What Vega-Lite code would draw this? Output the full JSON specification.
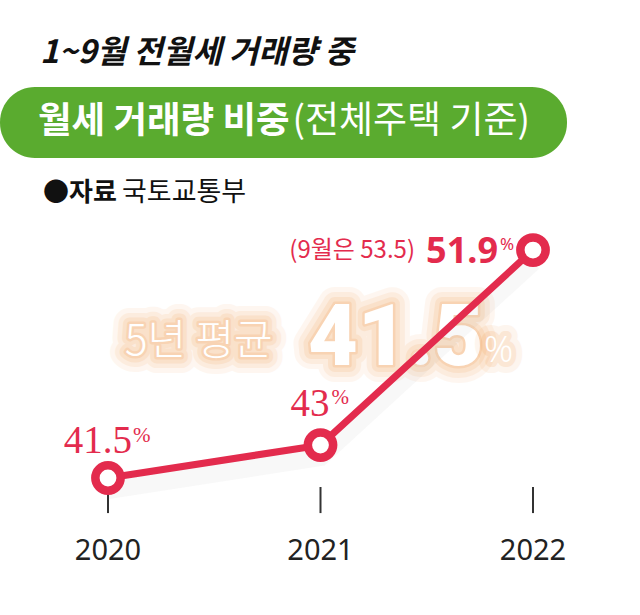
{
  "$schema": "https://vega.github.io/schema/vega-lite/v6.json",
  "width": 640,
  "height": 615,
  "autosize": {"type": "fit", "contains": "padding"},
  "padding": 0,
  "background": "white",
  "config": {"view": {"stroke": null}},
  "data": {
    "values": [
      {"year": 2020, "share": 41.5},
      {"year": 2021, "share": 43.0},
      {"year": 2022, "share": 51.9}
    ]
  },
  "layer": [
    {
      "data": {"values": [{}]},
      "mark": {"type": "rect", "color": "#5aab2f", "cornerRadius": 35},
      "encoding": {
        "x": {"datum": 2019.4918, "type": "quantitative", "scale": {"domain": [2019.4918, 2022.5035], "nice": false, "zero": false}, "axis": null},
        "x2": {"datum": 2022.16},
        "y": {"datum": 59.338, "type": "quantitative", "scale": {"domain": [35.25, 63.307], "nice": false, "zero": false}, "axis": null},
        "y2": {"datum": 56.099}
      }
    },
    {
      "data": {"values": [{}]},
      "mark": {"type": "text", "align": "left", "baseline": "middle", "font": "Noto Sans CJK KR", "fontSize": 32, "fontWeight": "bold", "fontStyle": "italic", "color": "#111111"},
      "encoding": {
        "x": {"datum": 2019.68, "type": "quantitative", "scale": {"domain": [2019.4918, 2022.5035], "nice": false, "zero": false}, "axis": null},
        "y": {"datum": 60.889, "type": "quantitative", "scale": {"domain": [35.25, 63.307], "nice": false, "zero": false}, "axis": null},
        "text": {"value": "1~9월 전월세 거래량 중"}
      }
    },
    {
      "data": {"values": [{}]},
      "mark": {"type": "text", "align": "left", "baseline": "middle", "font": "Noto Sans CJK KR", "fontSize": 36.5, "fontWeight": "bold", "color": "white"},
      "encoding": {
        "x": {"datum": 2019.6706, "type": "quantitative", "scale": {"domain": [2019.4918, 2022.5035], "nice": false, "zero": false}, "axis": null},
        "y": {"datum": 57.741, "type": "quantitative", "scale": {"domain": [35.25, 63.307], "nice": false, "zero": false}, "axis": null},
        "text": {"value": "월세 거래량 비중"}
      }
    },
    {
      "data": {"values": [{}]},
      "mark": {"type": "text", "align": "right", "baseline": "middle", "font": "Noto Sans CJK KR", "fontSize": 37, "fontWeight": "normal", "color": "white"},
      "encoding": {
        "x": {"datum": 2021.9859, "type": "quantitative", "scale": {"domain": [2019.4918, 2022.5035], "nice": false, "zero": false}, "axis": null},
        "y": {"datum": 57.741, "type": "quantitative", "scale": {"domain": [35.25, 63.307], "nice": false, "zero": false}, "axis": null},
        "text": {"value": "(전체주택 기준)"}
      }
    },
    {
      "data": {"values": [{}]},
      "mark": {"type": "text", "align": "left", "baseline": "middle", "font": "Noto Sans CJK KR", "fontSize": 26, "fontWeight": "bold", "color": "#111111"},
      "encoding": {
        "x": {"datum": 2019.6942, "type": "quantitative", "scale": {"domain": [2019.4918, 2022.5035], "nice": false, "zero": false}, "axis": null},
        "y": {"datum": 54.502, "type": "quantitative", "scale": {"domain": [35.25, 63.307], "nice": false, "zero": false}, "axis": null},
        "text": {"value": "●자료"}
      }
    },
    {
      "data": {"values": [{}]},
      "mark": {"type": "text", "align": "left", "baseline": "middle", "font": "Noto Sans CJK KR", "fontSize": 27, "fontWeight": "normal", "color": "#111111"},
      "encoding": {
        "x": {"datum": 2020.0659, "type": "quantitative", "scale": {"domain": [2019.4918, 2022.5035], "nice": false, "zero": false}, "axis": null},
        "y": {"datum": 54.502, "type": "quantitative", "scale": {"domain": [35.25, 63.307], "nice": false, "zero": false}, "axis": null},
        "text": {"value": "국토교통부"}
      }
    },
    {
      "data": {"values": [{}]},
      "mark": {"type": "text", "align": "left", "baseline": "middle", "font": "Noto Sans CJK KR", "fontSize": 42, "fontWeight": 300, "fill": "#f39a4e", "stroke": "#f39a4e", "strokeWidth": 32, "strokeJoin": "round", "opacity": 0.08},
      "encoding": {
        "x": {"datum": 2020.08, "type": "quantitative", "scale": {"domain": [2019.4918, 2022.5035], "nice": false, "zero": false}, "axis": null},
        "y": {"datum": 47.682, "type": "quantitative", "scale": {"domain": [35.25, 63.307], "nice": false, "zero": false}, "axis": null},
        "text": {"value": "5년 평균"}
      }
    },
    {
      "data": {"values": [{}]},
      "mark": {"type": "text", "align": "left", "baseline": "middle", "font": "Noto Sans CJK KR", "fontSize": 42, "fontWeight": 300, "fill": "#f39a4e", "stroke": "#f39a4e", "strokeWidth": 22, "strokeJoin": "round", "opacity": 0.1},
      "encoding": {
        "x": {"datum": 2020.08, "type": "quantitative", "scale": {"domain": [2019.4918, 2022.5035], "nice": false, "zero": false}, "axis": null},
        "y": {"datum": 47.682, "type": "quantitative", "scale": {"domain": [35.25, 63.307], "nice": false, "zero": false}, "axis": null},
        "text": {"value": "5년 평균"}
      }
    },
    {
      "data": {"values": [{}]},
      "mark": {"type": "text", "align": "left", "baseline": "middle", "font": "Noto Sans CJK KR", "fontSize": 42, "fontWeight": 300, "fill": "#f39a4e", "stroke": "#f39a4e", "strokeWidth": 13, "strokeJoin": "round", "opacity": 0.13},
      "encoding": {
        "x": {"datum": 2020.08, "type": "quantitative", "scale": {"domain": [2019.4918, 2022.5035], "nice": false, "zero": false}, "axis": null},
        "y": {"datum": 47.682, "type": "quantitative", "scale": {"domain": [35.25, 63.307], "nice": false, "zero": false}, "axis": null},
        "text": {"value": "5년 평균"}
      }
    },
    {
      "data": {"values": [{}]},
      "mark": {"type": "text", "align": "left", "baseline": "middle", "font": "Noto Sans CJK KR", "fontSize": 42, "fontWeight": 300, "fill": "#f39a4e", "stroke": "#f39a4e", "strokeWidth": 5, "strokeJoin": "round", "opacity": 0.18},
      "encoding": {
        "x": {"datum": 2020.08, "type": "quantitative", "scale": {"domain": [2019.4918, 2022.5035], "nice": false, "zero": false}, "axis": null},
        "y": {"datum": 47.682, "type": "quantitative", "scale": {"domain": [35.25, 63.307], "nice": false, "zero": false}, "axis": null},
        "text": {"value": "5년 평균"}
      }
    },
    {
      "data": {"values": [{}]},
      "mark": {"type": "text", "align": "left", "baseline": "middle", "font": "Noto Sans CJK KR", "fontSize": 42, "fontWeight": 300, "color": "white"},
      "encoding": {
        "x": {"datum": 2020.08, "type": "quantitative", "scale": {"domain": [2019.4918, 2022.5035], "nice": false, "zero": false}, "axis": null},
        "y": {"datum": 47.682, "type": "quantitative", "scale": {"domain": [35.25, 63.307], "nice": false, "zero": false}, "axis": null},
        "text": {"value": "5년 평균"}
      }
    },
    {
      "data": {"values": [{}]},
      "mark": {"type": "text", "align": "left", "baseline": "alphabetic", "font": "Roboto", "fontSize": 86, "fontWeight": 900, "fill": "#f39a4e", "stroke": "#f39a4e", "strokeWidth": 34, "strokeJoin": "round", "opacity": 0.08},
      "encoding": {
        "x": {"datum": 2020.9412, "type": "quantitative", "scale": {"domain": [2019.4918, 2022.5035], "nice": false, "zero": false}, "axis": null},
        "y": {"datum": 46.656, "type": "quantitative", "scale": {"domain": [35.25, 63.307], "nice": false, "zero": false}, "axis": null},
        "text": {"value": "41.5"}
      }
    },
    {
      "data": {"values": [{}]},
      "mark": {"type": "text", "align": "left", "baseline": "alphabetic", "font": "Roboto", "fontSize": 86, "fontWeight": 900, "fill": "#f39a4e", "stroke": "#f39a4e", "strokeWidth": 24, "strokeJoin": "round", "opacity": 0.1},
      "encoding": {
        "x": {"datum": 2020.9412, "type": "quantitative", "scale": {"domain": [2019.4918, 2022.5035], "nice": false, "zero": false}, "axis": null},
        "y": {"datum": 46.656, "type": "quantitative", "scale": {"domain": [35.25, 63.307], "nice": false, "zero": false}, "axis": null},
        "text": {"value": "41.5"}
      }
    },
    {
      "data": {"values": [{}]},
      "mark": {"type": "text", "align": "left", "baseline": "alphabetic", "font": "Roboto", "fontSize": 86, "fontWeight": 900, "fill": "#f39a4e", "stroke": "#f39a4e", "strokeWidth": 14, "strokeJoin": "round", "opacity": 0.13},
      "encoding": {
        "x": {"datum": 2020.9412, "type": "quantitative", "scale": {"domain": [2019.4918, 2022.5035], "nice": false, "zero": false}, "axis": null},
        "y": {"datum": 46.656, "type": "quantitative", "scale": {"domain": [35.25, 63.307], "nice": false, "zero": false}, "axis": null},
        "text": {"value": "41.5"}
      }
    },
    {
      "data": {"values": [{}]},
      "mark": {"type": "text", "align": "left", "baseline": "alphabetic", "font": "Roboto", "fontSize": 86, "fontWeight": 900, "fill": "#f39a4e", "stroke": "#f39a4e", "strokeWidth": 5, "strokeJoin": "round", "opacity": 0.18},
      "encoding": {
        "x": {"datum": 2020.9412, "type": "quantitative", "scale": {"domain": [2019.4918, 2022.5035], "nice": false, "zero": false}, "axis": null},
        "y": {"datum": 46.656, "type": "quantitative", "scale": {"domain": [35.25, 63.307], "nice": false, "zero": false}, "axis": null},
        "text": {"value": "41.5"}
      }
    },
    {
      "data": {"values": [{}]},
      "mark": {"type": "text", "align": "left", "baseline": "alphabetic", "font": "Roboto", "fontSize": 86, "fontWeight": 900, "color": "white"},
      "encoding": {
        "x": {"datum": 2020.9412, "type": "quantitative", "scale": {"domain": [2019.4918, 2022.5035], "nice": false, "zero": false}, "axis": null},
        "y": {"datum": 46.656, "type": "quantitative", "scale": {"domain": [35.25, 63.307], "nice": false, "zero": false}, "axis": null},
        "text": {"value": "41.5"}
      }
    },
    {
      "data": {"values": [{}]},
      "mark": {"type": "text", "align": "left", "baseline": "alphabetic", "font": "Noto Sans", "fontSize": 36, "fontWeight": 300, "fill": "#f39a4e", "stroke": "#f39a4e", "strokeWidth": 22, "strokeJoin": "round", "opacity": 0.09},
      "encoding": {
        "x": {"datum": 2021.7694, "type": "quantitative", "scale": {"domain": [2019.4918, 2022.5035], "nice": false, "zero": false}, "axis": null},
        "y": {"datum": 46.792, "type": "quantitative", "scale": {"domain": [35.25, 63.307], "nice": false, "zero": false}, "axis": null},
        "text": {"value": "%"}
      }
    },
    {
      "data": {"values": [{}]},
      "mark": {"type": "text", "align": "left", "baseline": "alphabetic", "font": "Noto Sans", "fontSize": 36, "fontWeight": 300, "fill": "#f39a4e", "stroke": "#f39a4e", "strokeWidth": 10, "strokeJoin": "round", "opacity": 0.15},
      "encoding": {
        "x": {"datum": 2021.7694, "type": "quantitative", "scale": {"domain": [2019.4918, 2022.5035], "nice": false, "zero": false}, "axis": null},
        "y": {"datum": 46.792, "type": "quantitative", "scale": {"domain": [35.25, 63.307], "nice": false, "zero": false}, "axis": null},
        "text": {"value": "%"}
      }
    },
    {
      "data": {"values": [{}]},
      "mark": {"type": "text", "align": "left", "baseline": "alphabetic", "font": "Noto Sans", "fontSize": 36, "fontWeight": 300, "color": "white"},
      "encoding": {
        "x": {"datum": 2021.7694, "type": "quantitative", "scale": {"domain": [2019.4918, 2022.5035], "nice": false, "zero": false}, "axis": null},
        "y": {"datum": 46.792, "type": "quantitative", "scale": {"domain": [35.25, 63.307], "nice": false, "zero": false}, "axis": null},
        "text": {"value": "%"}
      }
    },
    {
      "mark": {"type": "line", "color": "#9a9a9a", "strokeWidth": 18, "opacity": 0.07, "yOffset": 12},
      "encoding": {
        "x": {"field": "year", "type": "quantitative", "scale": {"domain": [2019.4918, 2022.5035], "nice": false, "zero": false}, "axis": null},
        "y": {"field": "share", "type": "quantitative", "scale": {"domain": [35.25, 63.307], "nice": false, "zero": false}, "axis": null}
      }
    },
    {
      "mark": {"type": "rule", "color": "#333333", "strokeWidth": 2},
      "encoding": {
        "x": {"field": "year", "type": "quantitative", "scale": {"domain": [2019.4918, 2022.5035], "nice": false, "zero": false}, "axis": null},
        "y": {"datum": 41.09, "type": "quantitative", "scale": {"domain": [35.25, 63.307], "nice": false, "zero": false}, "axis": null},
        "y2": {"datum": 39.9}
      }
    },
    {
      "mark": {"type": "line", "color": "#e32b4d", "strokeWidth": 7, "strokeCap": "round"},
      "encoding": {
        "x": {"field": "year", "type": "quantitative", "scale": {"domain": [2019.4918, 2022.5035], "nice": false, "zero": false}, "axis": null},
        "y": {"field": "share", "type": "quantitative", "scale": {"domain": [35.25, 63.307], "nice": false, "zero": false}, "axis": null}
      }
    },
    {
      "mark": {"type": "point", "shape": "circle", "filled": true, "fill": "white", "stroke": "#e32b4d", "strokeWidth": 8.5, "size": 640, "opacity": 1},
      "encoding": {
        "x": {"field": "year", "type": "quantitative", "scale": {"domain": [2019.4918, 2022.5035], "nice": false, "zero": false}, "axis": null},
        "y": {"field": "share", "type": "quantitative", "scale": {"domain": [35.25, 63.307], "nice": false, "zero": false}, "axis": null}
      }
    },
    {
      "transform": [{"filter": "datum.year == 2020"}],
      "mark": {"type": "text", "align": "right", "baseline": "alphabetic", "font": "Liberation Serif", "fontSize": 39, "color": "#e32b4d", "dx": 24, "dy": -25},
      "encoding": {
        "x": {"field": "year", "type": "quantitative", "scale": {"domain": [2019.4918, 2022.5035], "nice": false, "zero": false}, "axis": null},
        "y": {"field": "share", "type": "quantitative", "scale": {"domain": [35.25, 63.307], "nice": false, "zero": false}, "axis": null},
        "text": {"field": "share", "type": "quantitative", "format": ".3~g"}
      }
    },
    {
      "transform": [{"filter": "datum.year == 2020"}],
      "mark": {"type": "text", "align": "left", "baseline": "alphabetic", "font": "Liberation Serif", "fontSize": 21, "color": "#e32b4d", "dx": 25, "dy": -36},
      "encoding": {
        "x": {"field": "year", "type": "quantitative", "scale": {"domain": [2019.4918, 2022.5035], "nice": false, "zero": false}, "axis": null},
        "y": {"field": "share", "type": "quantitative", "scale": {"domain": [35.25, 63.307], "nice": false, "zero": false}, "axis": null},
        "text": {"value": "%"}
      }
    },
    {
      "transform": [{"filter": "datum.year == 2021"}],
      "mark": {"type": "text", "align": "right", "baseline": "alphabetic", "font": "Liberation Serif", "fontSize": 39, "color": "#e32b4d", "dx": 9, "dy": -29},
      "encoding": {
        "x": {"field": "year", "type": "quantitative", "scale": {"domain": [2019.4918, 2022.5035], "nice": false, "zero": false}, "axis": null},
        "y": {"field": "share", "type": "quantitative", "scale": {"domain": [35.25, 63.307], "nice": false, "zero": false}, "axis": null},
        "text": {"field": "share", "type": "quantitative", "format": ".3~g"}
      }
    },
    {
      "transform": [{"filter": "datum.year == 2021"}],
      "mark": {"type": "text", "align": "left", "baseline": "alphabetic", "font": "Liberation Serif", "fontSize": 21, "color": "#e32b4d", "dx": 11, "dy": -41},
      "encoding": {
        "x": {"field": "year", "type": "quantitative", "scale": {"domain": [2019.4918, 2022.5035], "nice": false, "zero": false}, "axis": null},
        "y": {"field": "share", "type": "quantitative", "scale": {"domain": [35.25, 63.307], "nice": false, "zero": false}, "axis": null},
        "text": {"value": "%"}
      }
    },
    {
      "transform": [{"filter": "datum.year == 2022"}],
      "mark": {"type": "text", "align": "right", "baseline": "alphabetic", "font": "Noto Sans", "fontWeight": "bold", "fontSize": 36, "color": "#e32b4d", "dx": -35, "dy": 13},
      "encoding": {
        "x": {"field": "year", "type": "quantitative", "scale": {"domain": [2019.4918, 2022.5035], "nice": false, "zero": false}, "axis": null},
        "y": {"field": "share", "type": "quantitative", "scale": {"domain": [35.25, 63.307], "nice": false, "zero": false}, "axis": null},
        "text": {"field": "share", "type": "quantitative", "format": ".3~g"}
      }
    },
    {
      "transform": [{"filter": "datum.year == 2022"}],
      "mark": {"type": "text", "align": "left", "baseline": "alphabetic", "font": "Noto Sans", "fontSize": 17, "color": "#e32b4d", "dx": -33, "dy": 0},
      "encoding": {
        "x": {"field": "year", "type": "quantitative", "scale": {"domain": [2019.4918, 2022.5035], "nice": false, "zero": false}, "axis": null},
        "y": {"field": "share", "type": "quantitative", "scale": {"domain": [35.25, 63.307], "nice": false, "zero": false}, "axis": null},
        "text": {"value": "%"}
      }
    },
    {
      "transform": [{"filter": "datum.year == 2022"}],
      "mark": {"type": "text", "align": "right", "baseline": "middle", "font": "Noto Sans CJK KR", "fontSize": 24, "color": "#e32b4d", "dx": -118, "dy": 1},
      "encoding": {
        "x": {"field": "year", "type": "quantitative", "scale": {"domain": [2019.4918, 2022.5035], "nice": false, "zero": false}, "axis": null},
        "y": {"field": "share", "type": "quantitative", "scale": {"domain": [35.25, 63.307], "nice": false, "zero": false}, "axis": null},
        "text": {"value": "(9월은 53.5)"}
      }
    },
    {
      "mark": {"type": "text", "align": "center", "baseline": "alphabetic", "font": "Noto Sans", "fontSize": 29, "color": "#222222"},
      "encoding": {
        "x": {"field": "year", "type": "quantitative", "scale": {"domain": [2019.4918, 2022.5035], "nice": false, "zero": false}, "axis": null},
        "y": {"datum": 37.76, "type": "quantitative", "scale": {"domain": [35.25, 63.307], "nice": false, "zero": false}, "axis": null},
        "text": {"field": "year", "type": "ordinal"}
      }
    }
  ]
}
